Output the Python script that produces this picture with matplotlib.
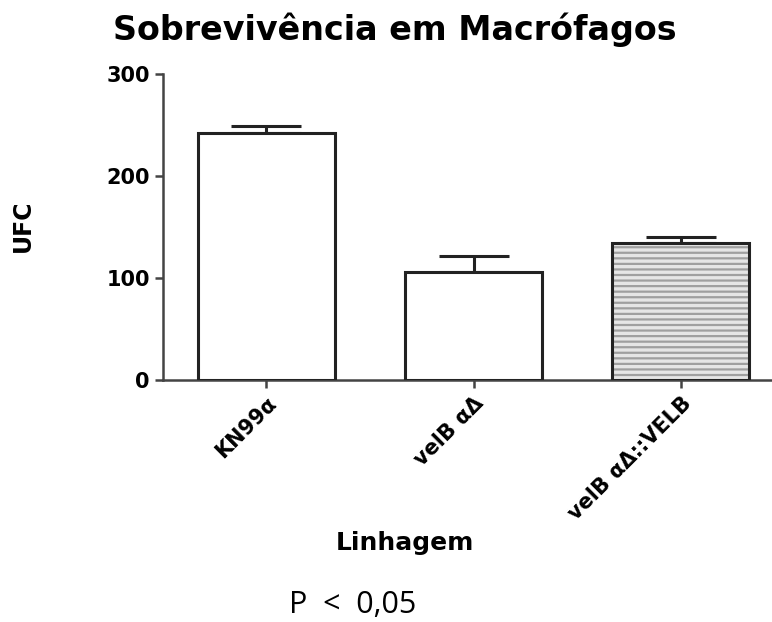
import matplotlib.pyplot as plt

linhagens = ['KN99α', 'velB αΔ', 'velB αΔ::VELB']
ufc = [242, 106, 134]
erro = [7, 16, 6]

plt.rcParams['font.family'] = ['DejaVu Sans']
plt.rcParams['hatch.linewidth'] = 1.6

fig = plt.figure(figsize=(7.72, 6.22), dpi=100)
ax = fig.add_axes([0.211, 0.389, 0.789, 0.492])

x = list(range(len(linhagens)))
cores = ['white', 'white', '#e6e6e6']
# fundo (e hachura cinza) da terceira barra
fundo = ax.bar(x, ufc, width=0.66, color=cores, edgecolor='#a0a0a0', linewidth=0, zorder=2)
fundo[2].set_hatch('---')
# contorno
ax.bar(x, ufc, width=0.66, color='none', edgecolor='#222222', linewidth=2.2, zorder=3)

ax.errorbar(x, ufc, yerr=[[0, 0, 0], erro], fmt='none', ecolor='#222222',
            elinewidth=2.2, capsize=25, capthick=2.2, zorder=1)

ax.set_xlim(-0.5, 2.44)
ax.set_ylim(0, 300)
ax.set_yticks([0, 100, 200, 300])
ax.spines['top'].set_visible(False)
ax.spines['right'].set_visible(False)
for s in ['left', 'bottom']:
    ax.spines[s].set_linewidth(1.8)
    ax.spines[s].set_color('#444444')
ax.tick_params(axis='both', length=6, width=1.8, color='#444444')
ax.set_xticks(x)
ax.set_xticklabels(linhagens, rotation=45, ha='right', rotation_mode='anchor',
                   fontsize=15, fontweight='bold')
for lbl in ax.get_yticklabels():
    lbl.set_fontsize(15)
    lbl.set_fontweight('bold')

fig.text(0.512, 0.952, 'Sobrevivência em Macrófagos', fontsize=24, fontweight='bold',
         ha='center', va='center')
fig.text(0.03, 0.637, 'UFC', fontsize=17, fontweight='bold', rotation=90,
         ha='center', va='center')
fig.text(0.525, 0.127, 'Linhagem', fontsize=18, fontweight='bold', ha='center', va='center')

fig.text(0.457, 0.015, 'P  <  0,05', fontsize=22, family=['Open Sans'], ha='center')

fig.savefig('out.png', dpi=100)
